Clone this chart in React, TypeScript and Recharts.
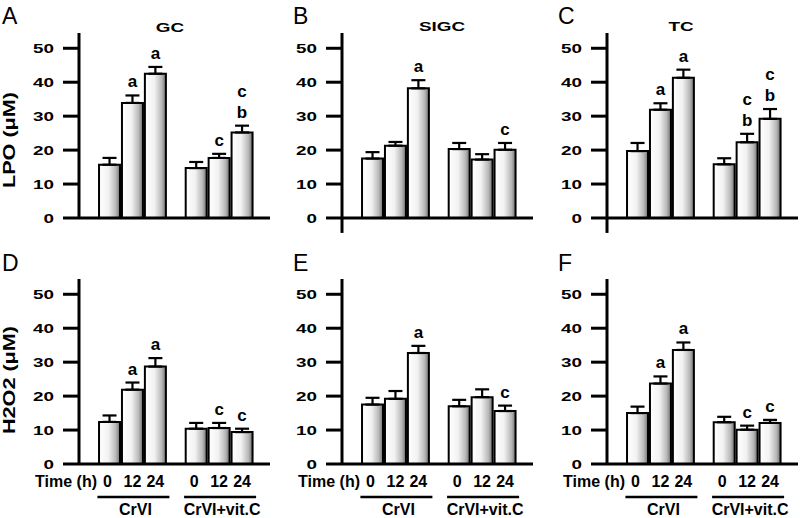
import React from "react";
import { BarChart, Bar, XAxis, YAxis, ErrorBar, LabelList, ReferenceLine } from "recharts";

// ---------- data ----------
const times = ["0", "12", "24", "0", "12", "24"];
const groupOfBar = [0, 0, 0, 1, 1, 1];
const groupNames = ["CrVI", "CrVI+vit.C"];
const timeAxisTitle = "Time (h)";
const yTicks = [0, 10, 20, 30, 40, 50];

const gcLpo = [15.7, 33.9, 42.5, 14.7, 17.7, 25.2];
const gcLpoErr = [2.0, 2.2, 2.0, 1.8, 1.2, 2.0];
const gcLpoSig = ["", "a", "a", "", "c", "c b"];

const sigcLpo = [17.5, 21.3, 38.2, 20.3, 17.2, 20.1];
const sigcLpoErr = [1.9, 1.1, 2.4, 1.8, 1.6, 2.0];
const sigcLpoSig = ["", "", "a", "", "", "c"];

const tcLpo = [19.7, 31.9, 41.3, 15.8, 22.3, 29.2];
const tcLpoErr = [2.4, 1.9, 2.4, 1.8, 2.5, 2.9];
const tcLpoSig = ["", "a", "a", "", "c b", "c b"];

const gcH2o2 = [12.4, 21.9, 28.7, 10.4, 10.6, 9.4];
const gcH2o2Err = [1.9, 2.1, 2.5, 1.7, 1.5, 1.0];
const gcH2o2Sig = ["", "a", "a", "", "c", "c"];

const sigcH2o2 = [17.5, 19.2, 32.7, 17.0, 19.7, 15.6];
const sigcH2o2Err = [2.0, 2.3, 2.1, 1.9, 2.3, 1.6];
const sigcH2o2Sig = ["", "", "a", "", "", "c"];

const tcH2o2 = [15.0, 23.7, 33.6, 12.3, 10.1, 12.1];
const tcH2o2Err = [1.9, 2.1, 2.2, 1.6, 1.2, 0.9];
const tcH2o2Sig = ["", "a", "a", "", "c", "c"];

// ---------- layout ----------
const FONT = '"Liberation Sans", Arial, Helvetica, sans-serif';
const GROUP_GAP = 0.78;
const X_DOMAIN: [number, number] = [-1.33, 7.0];
const Y_MAX = 54.5;
const PLOT_H = 185;
const PX_PER_UNIT = PLOT_H / Y_MAX;
const AXIS_W = 79;
const CHART_W = 270;
const TOP_M = 33;
const COL_X = [0, 263, 528];
const ROW_Y = [0, 246];
const TITLE_X = [170, 442, 681];
const TITLE_Y = [32, 31, 31];
const LETTER_X = [2, 293, 558];
const LETTER_Y = [24, 271];
const TIME_TITLE_RIGHT = 97;
const TIME_TITLE_Y = 487;

type PanelDef = {
  id: string;
  title: string;
  values: number[];
  errs: number[];
  sig: string[];
  col: number;
  row: number;
  yLabel: string;
  yExt: number;
};

const panels: PanelDef[] = [
  { id: "A", title: "GC", values: gcLpo, errs: gcLpoErr, sig: gcLpoSig, col: 0, row: 0, yLabel: "LPO (\u03bcM)", yExt: 0 },
  { id: "B", title: "SIGC", values: sigcLpo, errs: sigcLpoErr, sig: sigcLpoSig, col: 1, row: 0, yLabel: "", yExt: 4.4 },
  { id: "C", title: "TC", values: tcLpo, errs: tcLpoErr, sig: tcLpoSig, col: 2, row: 0, yLabel: "", yExt: 4.4 },
  { id: "D", title: "", values: gcH2o2, errs: gcH2o2Err, sig: gcH2o2Sig, col: 0, row: 1, yLabel: "H2O2 (\u03bcM)", yExt: 0 },
  { id: "E", title: "", values: sigcH2o2, errs: sigcH2o2Err, sig: sigcH2o2Sig, col: 1, row: 1, yLabel: "", yExt: 0 },
  { id: "F", title: "", values: tcH2o2, errs: tcH2o2Err, sig: tcH2o2Sig, col: 2, row: 1, yLabel: "", yExt: 0 },
];

const YTick = (props: any) => {
  const { x, y, payload } = props;
  return (
    <text
      transform={`translate(${x},${y + 4.6}) scale(1.45,1)`}
      textAnchor="end"
      fontSize={13}
      fontWeight={700}
      fontFamily={FONT}
      fill="#000"
    >
      {payload.value}
    </text>
  );
};

const SigLabel = (props: any) => {
  const { x, y, width, value } = props;
  if (!value) return null;
  const lines = String(value).split(" ");
  const cx = Number(x) + Number(width) / 2;
  return (
    <g>
      {lines.map((t, k) => (
        <text
          key={k}
          x={cx}
          y={Number(y) - 8 - (lines.length - 1 - k) * 21}
          textAnchor="middle"
          fontSize={17}
          fontWeight={700}
          fontFamily={FONT}
          fill="#000"
        >
          {t}
        </text>
      ))}
    </g>
  );
};

function Panel({ p }: { p: PanelDef }) {
  const bottom = p.row === 1;
  const yMin = -p.yExt;
  const plotH = (Y_MAX - yMin) * PX_PER_UNIT;
  const bottomM = bottom ? 0 : 14;
  const height = TOP_M + plotH + (bottom ? 54 : 0) + bottomM;
  const rows = p.values.map((v, i) => ({
    pos: i + groupOfBar[i] * GROUP_GAP,
    time: times[i],
    value: v,
    err: p.errs[i],
    errRange: [0, p.errs[i]],
    sig: p.sig[i],
  }));
  const groupCenters = groupNames.map((_, g) => {
    const ps = rows.filter((r, i) => groupOfBar[i] === g).map((r) => r.pos);
    return ps.reduce((a, b) => a + b, 0) / ps.length;
  });
  const gradId = `grad${p.id}`;

  const TimeTick = (props: any) => {
    const { x, y, payload } = props;
    const idx = rows.findIndex((r) => Math.abs(r.pos - payload.value) < 1e-6);
    const row = idx >= 0 ? rows[idx] : null;
    return (
      <text x={x - (idx % 3 === 0 ? 2 : 0)} y={y + 23} textAnchor="middle" fontSize={16} fontWeight={700} fontFamily={FONT} fill="#000">
        {row ? row.time : ""}
      </text>
    );
  };

  const GroupTick = (props: any) => {
    const { x, y, payload } = props;
    const gi = groupCenters.findIndex((c) => Math.abs(c - payload.value) < 1e-6);
    return (
      <g>
        <line x1={x - 35} x2={x + 37} y1={y + 9} y2={y + 9} stroke="#000" strokeWidth={2.5} />
        <text x={x + 3} y={y + 27} textAnchor="middle" fontSize={16} fontWeight={700} fontFamily={FONT} fill="#000">
          {gi >= 0 ? groupNames[gi] : ""}
        </text>
      </g>
    );
  };

  return (
    <div style={{ position: "absolute", left: COL_X[p.col], top: ROW_Y[p.row] }}>
      <BarChart
        width={CHART_W}
        height={height}
        data={rows}
        margin={{ top: TOP_M, right: 0, bottom: bottomM, left: 0 }}
      >
        <defs>
          <linearGradient id={gradId} x1="0" y1="0" x2="1" y2="0">
            <stop offset="0" stopColor="#ffffff" />
            <stop offset="0.45" stopColor="#f2f2f2" />
            <stop offset="0.8" stopColor="#b8b8b8" />
            <stop offset="1" stopColor="#707070" />
          </linearGradient>
        </defs>
        <XAxis
          type="number"
          dataKey="pos"
          domain={X_DOMAIN}
          allowDataOverflow
          hide={!bottom}
          ticks={rows.map((r) => r.pos)}
          interval={0}
          axisLine={false}
          tickLine={false}
          tickSize={0}
          tickMargin={0}
          height={24}
          tick={TimeTick}
        />
        {bottom && (
          <XAxis
            xAxisId="grp"
            type="number"
            dataKey="pos"
            domain={X_DOMAIN}
            allowDataOverflow
            ticks={groupCenters}
            interval={0}
            axisLine={false}
            tickLine={false}
            tickSize={0}
            tickMargin={0}
            height={30}
            tick={GroupTick}
          />
        )}
        <YAxis
          type="number"
          domain={[yMin, Y_MAX]}
          allowDataOverflow
          ticks={yTicks}
          interval={0}
          width={AXIS_W}
          tickSize={16}
          tickMargin={9}
          axisLine={{ stroke: "#000", strokeWidth: 3 }}
          tickLine={{ stroke: "#000", strokeWidth: 3 }}
          tick={YTick}
          label={
            p.yLabel
              ? {
                  content: (lp: any) => {
                    const vb = lp.viewBox || {};
                    const x = vb.x + 15;
                    const y = vb.y + vb.height - 30 - p.yExt * PX_PER_UNIT;
                    return (
                      <text
                        transform={`translate(${x},${y}) rotate(-90) scale(1.35,1)`}
                        textAnchor="start"
                        fontSize={16}
                        fontWeight={700}
                        fontFamily={FONT}
                        fill="#000"
                      >
                        {p.yLabel}
                      </text>
                    );
                  },
                }
              : undefined
          }
        />
        <Bar
          dataKey="value"
          stackId="s"
          barSize={21}
          fill={`url(#${gradId})`}
          stroke="#000"
          strokeWidth={2}
          isAnimationActive={false}
        >
          <ErrorBar dataKey="errRange" width={7} stroke="#000" strokeWidth={2.2} direction="y" />
        </Bar>
        <Bar dataKey="err" stackId="s" barSize={21} fill="none" stroke="none" isAnimationActive={false}>
          <LabelList dataKey="sig" content={SigLabel} />
        </Bar>
        <ReferenceLine y={0} stroke="#000" strokeWidth={3} />
      </BarChart>
    </div>
  );
}

export default function App() {
  return (
    <div
      style={{
        position: "absolute",
        left: 0,
        top: 0,
        width: 800,
        height: 518,
        background: "#fff",
        overflow: "hidden",
        fontFamily: FONT,
      }}
    >
      {panels.map((p) => (
        <Panel key={p.id} p={p} />
      ))}
      <svg
        width={800}
        height={518}
        style={{ position: "absolute", left: 0, top: 0, pointerEvents: "none" }}
      >
        {panels.map((p) => (
          <g key={p.id}>
            <text
              x={LETTER_X[p.col]}
              y={LETTER_Y[p.row]}
              fontSize={23}
              fontFamily={FONT}
              fill="#000"
            >
              {p.id}
            </text>
            {p.title ? (
              <text
                transform={`translate(${TITLE_X[p.col]},${TITLE_Y[p.col]}) scale(1.4,1)`}
                textAnchor="middle"
                fontSize={13.5}
                fontWeight={700}
                fontFamily={FONT}
                fill="#000"
              >
                {p.title}
              </text>
            ) : null}
            {p.row === 1 ? (
              <text
                x={COL_X[p.col] + TIME_TITLE_RIGHT}
                y={TIME_TITLE_Y}
                textAnchor="end"
                fontSize={16}
                fontWeight={700}
                fontFamily={FONT}
                fill="#000"
              >
                {timeAxisTitle}
              </text>
            ) : null}
          </g>
        ))}
      </svg>
    </div>
  );
}
